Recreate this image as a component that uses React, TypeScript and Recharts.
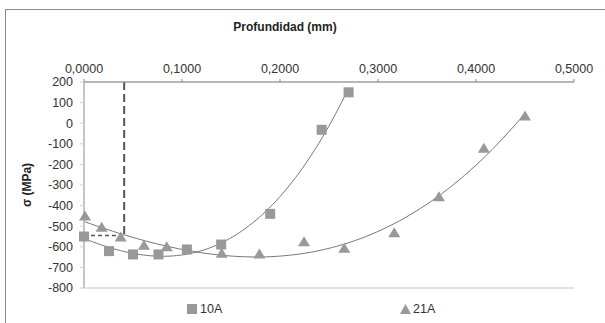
import { ComposedChart, Scatter, Line, XAxis, YAxis, CartesianGrid, ReferenceLine } from "recharts";

// Profundidad (mm) vs σ (MPa)
const depth10A = [0.0, 0.0255, 0.05, 0.076, 0.105, 0.14, 0.19, 0.2425, 0.27];
const stress10A = [-550, -621, -637, -637, -613, -589, -440, -32, 150];

const depth21A = [0.001, 0.018, 0.0374, 0.0612, 0.0844, 0.1405, 0.179, 0.2245, 0.2656, 0.3166, 0.3622, 0.408, 0.45];
const stress21A = [-453, -508, -555, -595, -602, -634, -637, -578, -610, -534, -359, -124, 33];

const xTicks = [0, 0.1, 0.2, 0.3, 0.4, 0.5];
const yTicks = [-800, -700, -600, -500, -400, -300, -200, -100, 0, 100, 200];
const xMinorTicks = [0, 0.02, 0.04, 0.06, 0.08, 0.1, 0.12, 0.14, 0.16, 0.18, 0.2, 0.22, 0.24, 0.26, 0.28, 0.3, 0.32, 0.34, 0.36, 0.38, 0.4, 0.42, 0.44, 0.46, 0.48, 0.5];
const yMinorTicks = [-800, -780, -760, -740, -720, -700, -680, -660, -640, -620, -600, -580, -560, -540, -520, -500, -480, -460, -440, -420, -400, -380, -360, -340, -320, -300, -280, -260, -240, -220, -200, -180, -160, -140, -120, -100, -80, -60, -40, -20, 0, 20, 40, 60, 80, 100, 120, 140, 160, 180, 200];

// dashed guide: depth and stress it marks
const guideDepth = [0.041];
const guideStress = [-545];

// least squares polynomial (like an Excel trendline)
function polyFit(xs: number[], ys: number[], deg: number) {
  const n = deg + 1;
  const A: number[][] = [];
  for (let i = 0; i < n; i++) {
    const row: number[] = [];
    for (let j = 0; j < n; j++) row.push(xs.reduce((s, x) => s + Math.pow(x, i + j), 0));
    row.push(xs.reduce((s, x, k) => s + ys[k] * Math.pow(x, i), 0));
    A.push(row);
  }
  for (let c = 0; c < n; c++) {
    let p = c;
    for (let r = c + 1; r < n; r++) if (Math.abs(A[r][c]) > Math.abs(A[p][c])) p = r;
    [A[c], A[p]] = [A[p], A[c]];
    for (let r = 0; r < n; r++) {
      if (r === c) continue;
      const f = A[r][c] / A[c][c];
      for (let k = c; k <= n; k++) A[r][k] -= f * A[c][k];
    }
  }
  return A.map((row, i) => row[n] / row[i]);
}

function trend(xs: number[], ys: number[]) {
  const coef = polyFit(xs, ys, 3);
  const lo = Math.min(...xs);
  const hi = Math.max(...xs);
  const out = [];
  for (let i = 0; i <= 80; i++) {
    const x = lo + ((hi - lo) * i) / 80;
    out.push({ x, y: coef.reduce((s, c, k) => s + c * Math.pow(x, k), 0) });
  }
  return out;
}

const pts10A = depth10A.map((x, i) => ({ x, y: stress10A[i] }));
const pts21A = depth21A.map((x, i) => ({ x, y: stress21A[i] }));
const trend10A = trend(depth10A, stress10A);
const trend21A = trend(depth21A, stress21A);

const FONT = "'Liberation Sans', Arial, sans-serif";
const MARK = "#999999";

const Square = (props: any) => (
  <rect x={props.cx - 5} y={props.cy - 5} width={10} height={10} fill={MARK} />
);
const Triangle = (props: any) => (
  <polygon
    points={`${props.cx},${props.cy - 6} ${props.cx + 6},${props.cy + 4} ${props.cx - 6},${props.cy + 4}`}
    fill={MARK}
  />
);

export default function App() {
  return (
    <div style={{ position: "fixed", left: 0, top: 0, width: 605, height: 323, background: "#fff", overflow: "hidden", fontFamily: FONT }}>
      <div style={{ position: "absolute", left: 5, top: 9, width: 700, height: 400, border: "1px solid #8a8a8a" }} />
      <div style={{ position: "absolute", left: 0, top: 20, width: 570, textAlign: "center", fontSize: 12, fontWeight: "bold", color: "#222" }}>
        Profundidad (mm)
      </div>
      <div style={{ position: "absolute", left: 0, top: 0 }}>
        <ComposedChart width={605} height={323} margin={{ top: 52, right: 31, bottom: 35, left: 0 }}>
          <CartesianGrid vertical={false} stroke="#d9d9d9" strokeWidth={1.5} />
          <XAxis
            xAxisId="main"
            type="number"
            dataKey="x"
            orientation="top"
            domain={[0, 0.5]}
            ticks={xTicks}
            height={30}
            tickSize={3}
            tickMargin={6}
            stroke="#8a8a8a"
            tick={{ fill: "#333", fontSize: 12.5, fontFamily: FONT }}
            tickFormatter={(v: number) => v.toFixed(4).replace(".", ",")}
          />
          <XAxis
            xAxisId="minor"
            type="number"
            dataKey="x"
            orientation="top"
            mirror
            domain={[0, 0.5]}
            ticks={xMinorTicks}
            height={0}
            tickSize={3}
            axisLine={false}
            tick={false}
            stroke="#8a8a8a"
          />
          <YAxis
            yAxisId="main"
            type="number"
            domain={[-800, 200]}
            ticks={yTicks}
            width={84}
            tickSize={4}
            tickMargin={7}
            stroke="#8a8a8a"
            tickLine={{ stroke: "#d0d0d0" }}
            tick={{ fill: "#333", fontSize: 12.5, fontFamily: FONT }}
            label={{ value: "σ (MPa)", angle: -90, position: "insideLeft", offset: 27, style: { fontWeight: "bold", fontSize: 12, fill: "#222", fontFamily: FONT, textAnchor: "middle" } }}
          />
          <YAxis
            yAxisId="minor"
            type="number"
            domain={[-800, 200]}
            ticks={yMinorTicks}
            mirror
            width={0}
            tickSize={3}
            axisLine={false}
            tick={false}
            stroke="#a0a0a0"
          />
          <ReferenceLine
            xAxisId="main"
            yAxisId="main"
            segment={[{ x: guideDepth[0], y: 200 }, { x: guideDepth[0], y: guideStress[0] }]}
            stroke="#555"
            strokeWidth={2}
            strokeDasharray="8 4"
          />
          <ReferenceLine
            xAxisId="main"
            yAxisId="main"
            segment={[{ x: 0, y: guideStress[0] }, { x: guideDepth[0], y: guideStress[0] }]}
            stroke="#555"
            strokeWidth={1.5}
            strokeDasharray="4 3"
          />
          <Scatter xAxisId="main" yAxisId="main" name="10A" data={pts10A} dataKey="y" shape={Square} isAnimationActive={false} />
          <Scatter xAxisId="main" yAxisId="main" name="21A" data={pts21A} dataKey="y" shape={Triangle} isAnimationActive={false} />
          <Line xAxisId="main" yAxisId="main" data={trend10A} dataKey="y" type="linear" stroke="#777" strokeWidth={1} dot={false} activeDot={false} isAnimationActive={false} />
          <Line xAxisId="main" yAxisId="main" data={trend21A} dataKey="y" type="linear" stroke="#777" strokeWidth={1} dot={false} activeDot={false} isAnimationActive={false} />
        </ComposedChart>
      </div>
      <div style={{ position: "absolute", left: 187, top: 302, display: "flex", alignItems: "center", fontSize: 12.5, color: "#333" }}>
        <svg width={10} height={10} style={{ marginRight: 3 }}>
          <rect width={10} height={10} fill={MARK} />
        </svg>
        10A
      </div>
      <div style={{ position: "absolute", left: 400, top: 302, display: "flex", alignItems: "center", fontSize: 12.5, color: "#333" }}>
        <svg width={11} height={10} style={{ marginRight: 2 }}>
          <polygon points="5.5,0 11,10 0,10" fill={MARK} />
        </svg>
        21A
      </div>
    </div>
  );
}
